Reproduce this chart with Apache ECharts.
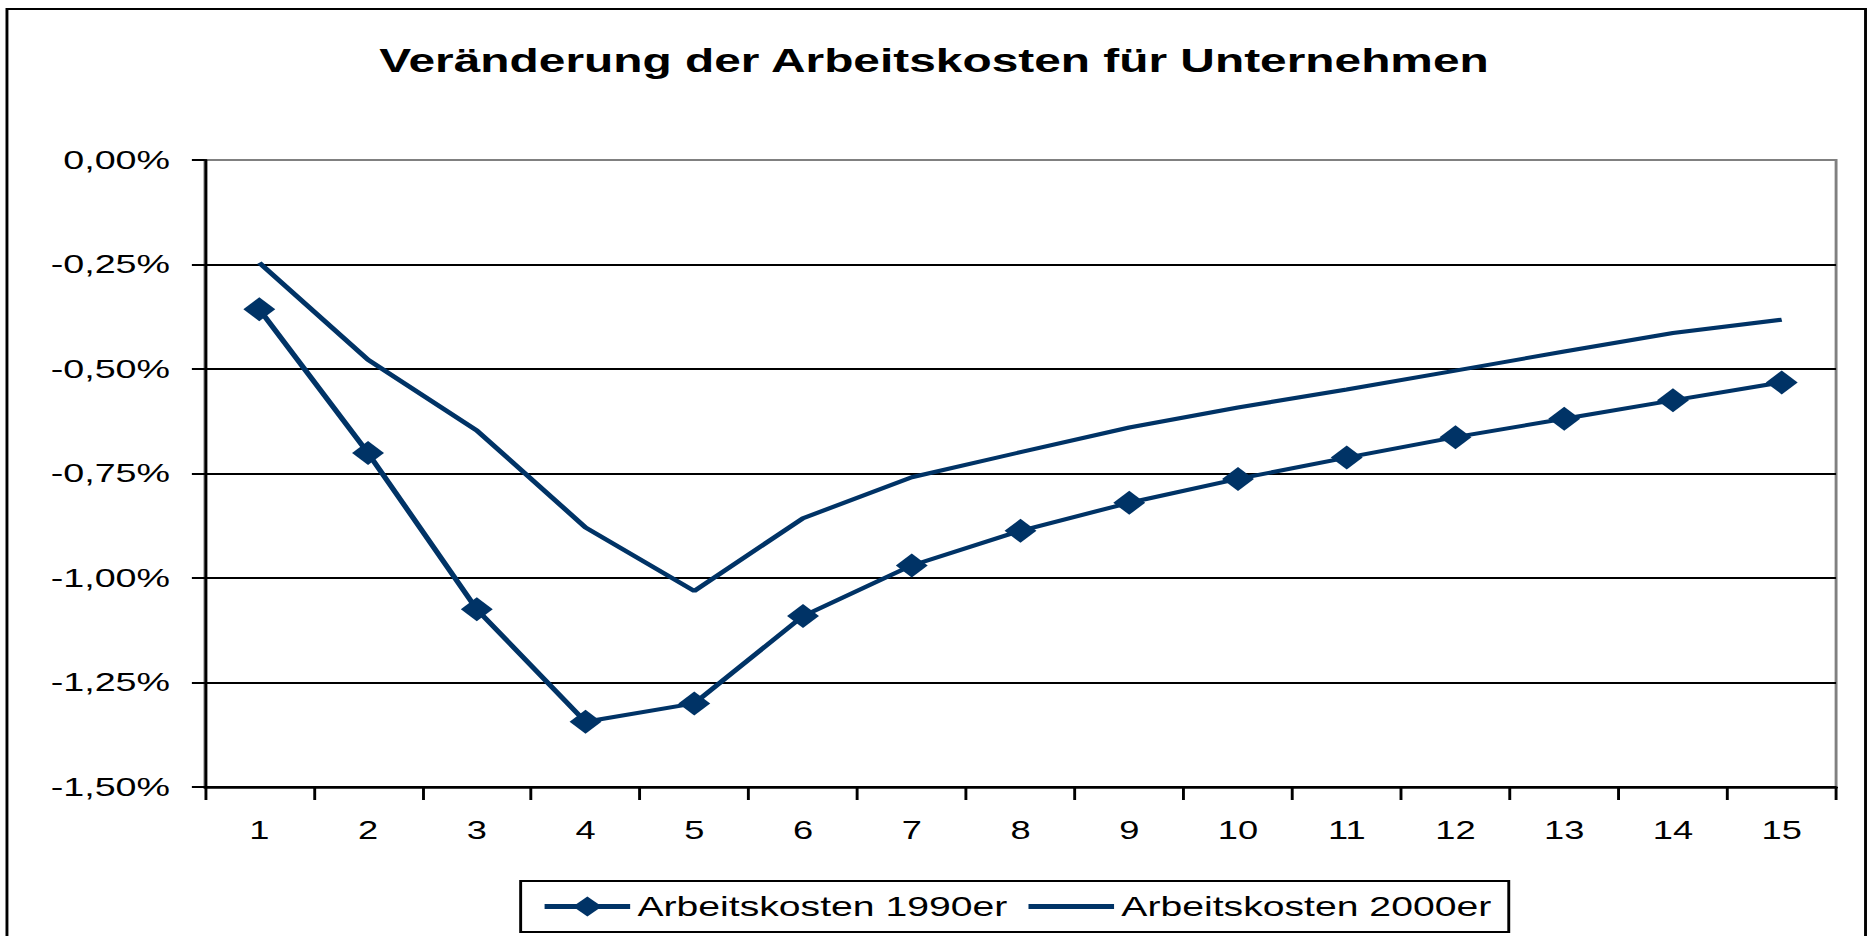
<!DOCTYPE html>
<html lang="de">

<head>
    <meta charset="UTF-8">
    <title>Veränderung der Arbeitskosten</title>
    <script src="https://cdn.jsdelivr.net/npm/echarts@6/dist/echarts.min.js"></script>
    <style>
        html, body { margin: 0; padding: 0; background: #fff; overflow: hidden; }
        /* the original picture is stretched sideways, so the chart is drawn narrow and widened */
        #chart { width: 1288px; height: 936px; transform: scaleX(1.4503); transform-origin: 0 0; }
    </style>
</head>

<body>
    <div id="chart"></div>
    <script>
        var titleText = 'Veränderung der Arbeitskosten für Unternehmen';
        var categories = ['1', '2', '3', '4', '5', '6', '7', '8', '9', '10', '11', '12', '13', '14', '15'];
        var seriesNames = ['Arbeitskosten 1990er', 'Arbeitskosten 2000er'];
        // Veränderung in Prozent
        var kosten1990 = [-0.357, -0.701, -1.075, -1.344, -1.300, -1.091, -0.970, -0.887, -0.820, -0.763, -0.712, -0.663, -0.619, -0.575, -0.532];
        var kosten2000 = [-0.246, -0.478, -0.647, -0.879, -1.031, -0.857, -0.759, -0.699, -0.640, -0.592, -0.549, -0.504, -0.458, -0.414, -0.382];

        var navy = '#003366';
        var font = "'Liberation Sans', Arial, sans-serif";

        var myChart = echarts.init(document.getElementById('chart'), null, { renderer: 'svg' });
        myChart.setOption({
            backgroundColor: '#fff',
            animation: false,
            title: {
                text: titleText,
                left: 'center',
                top: 39,
                textStyle: { fontFamily: font, fontSize: 33, fontWeight: 'bold', color: '#000' }
            },
            graphic: [{
                // Rahmen um das ganze Diagramm
                type: 'rect',
                shape: { x: 4.8, y: 9, width: 1281.5, height: 940 },
                style: { fill: 'none', stroke: '#000', lineWidth: 2 },
                silent: true
            }],
            legend: {
                data: [
                    { name: seriesNames[0] },
                    // nur Linie, kein Symbol
                    { name: seriesNames[1], itemStyle: { color: 'rgba(0,0,0,0)', borderWidth: 0 } }
                ],
                left: 359,
                top: 881,
                padding: [12, 12, 12, 14],
                itemWidth: 59,
                itemHeight: 25,
                itemGap: 12,
                borderColor: '#000',
                borderWidth: 2,
                lineStyle: { width: 5 },
                textStyle: { fontFamily: font, fontSize: 27, color: '#000' }
            },
            grid: {
                left: 141.3,
                right: 22,
                top: 160,
                bottom: 149,
                show: true,
                borderColor: '#808080',
                borderWidth: 2
            },
            xAxis: {
                type: 'category',
                data: categories,
                boundaryGap: true,
                axisLine: { onZero: false, lineStyle: { color: '#000', width: 2.5 } },
                axisTick: { show: true, length: 13, lineStyle: { color: '#000', width: 2 } },
                axisLabel: { margin: 31, fontFamily: font, fontSize: 25, color: '#000' },
                splitLine: { show: false }
            },
            yAxis: {
                type: 'value',
                min: -1.5,
                max: 0,
                interval: 0.25,
                axisLine: { show: true, lineStyle: { color: '#000', width: 2 } },
                axisTick: { show: true, length: 9, lineStyle: { color: '#000', width: 2 } },
                axisLabel: {
                    margin: 24,
                    fontFamily: font,
                    fontSize: 26,
                    color: '#000',
                    formatter: function(v) {
                        return v.toFixed(2).replace('.', ',') + '%';
                    }
                },
                splitLine: {
                    show: true,
                    lineStyle: { color: ['#000', '#000', '#000', '#000', '#000', '#000', '#808080'], width: 2 }
                }
            },
            series: [{
                name: seriesNames[0],
                type: 'line',
                data: kosten1990,
                symbol: 'diamond',
                symbolSize: [22, 24],
                showAllSymbol: true,
                itemStyle: { color: navy },
                lineStyle: { color: navy, width: 4 },
                z: 3
            }, {
                name: seriesNames[1],
                type: 'line',
                data: kosten2000,
                symbol: 'none',
                itemStyle: { color: navy },
                lineStyle: { color: navy, width: 4 },
                z: 2
            }]
        });
    </script>
</body>

</html>
